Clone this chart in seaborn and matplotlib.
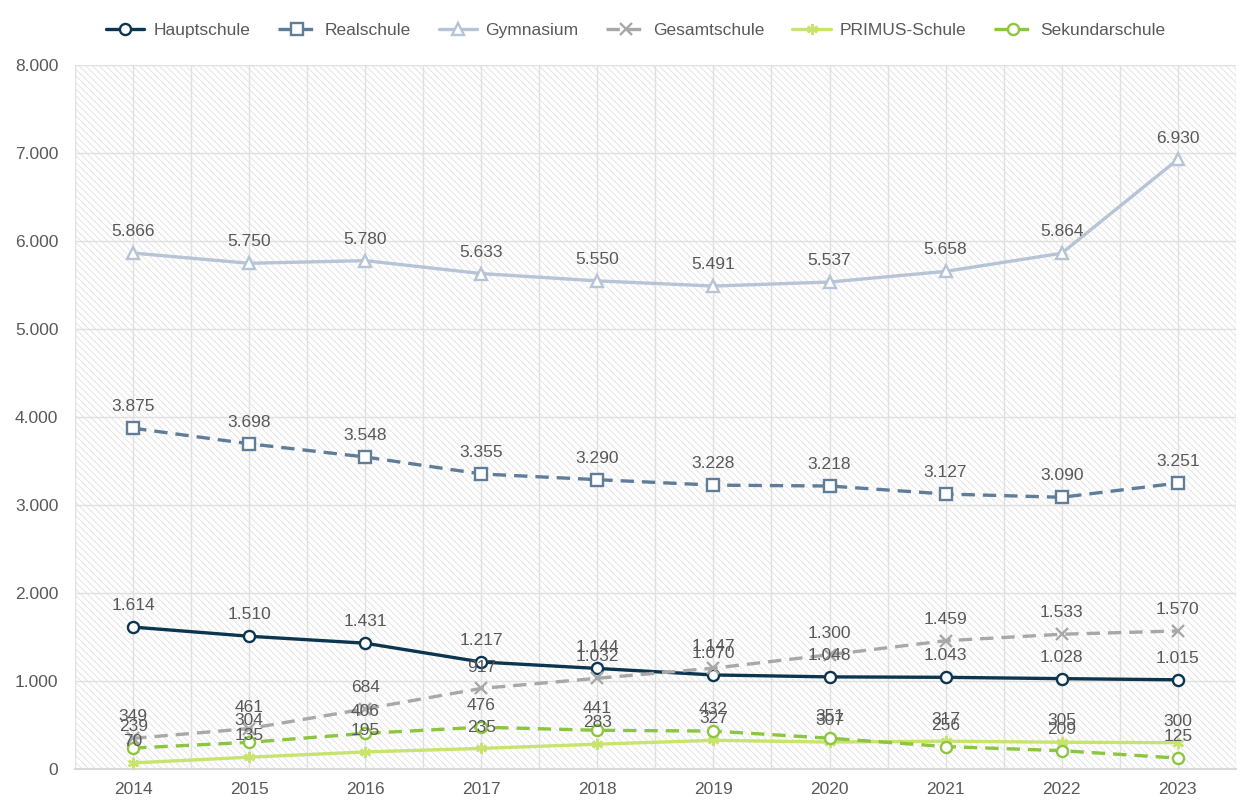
import pandas as pd
import matplotlib
matplotlib.use("Agg")
from matplotlib import pyplot as plt
import matplotlib.ticker as mtick
import seaborn as sns

# data
years = [2014, 2015, 2016, 2017, 2018, 2019, 2020, 2021, 2022, 2023]
hauptschule = [1614, 1510, 1431, 1217, 1144, 1070, 1048, 1043, 1028, 1015]
realschule = [3875, 3698, 3548, 3355, 3290, 3228, 3218, 3127, 3090, 3251]
gymnasium = [5866, 5750, 5780, 5633, 5550, 5491, 5537, 5658, 5864, 6930]
gesamtschule = [349, 461, 684, 917, 1032, 1147, 1300, 1459, 1533, 1570]
primus = [70, 135, 195, 235, 283, 327, 307, 317, 305, 300]
sekundarschule = [239, 304, 406, 476, 441, 432, 351, 256, 209, 125]

names = ["Hauptschule", "Realschule", "Gymnasium", "Gesamtschule", "PRIMUS-Schule", "Sekundarschule"]
values = [hauptschule, realschule, gymnasium, gesamtschule, primus, sekundarschule]
y_ticks = [0, 1000, 2000, 3000, 4000, 5000, 6000, 7000, 8000]

# styles per series
colors = ["#0c3550", "#5f7d98", "#b6c4d6", "#a8a8a8", "#c8e46e", "#8cc53f"]
markers = ["o", "s", "^", "x", (6, 2, 0), "o"]
dashed = [False, True, False, True, False, True]

rows = []
for name, vals in zip(names, values):
    for yr, v in zip(years, vals):
        rows.append({"Jahr": yr, "Anzahl": v, "Schulform": name})
df = pd.DataFrame(rows)

sns.set_style("white")
plt.rcParams["font.family"] = ["Liberation Sans", "DejaVu Sans"]
plt.rcParams["hatch.color"] = "#e0e0e0"
plt.rcParams["hatch.linewidth"] = 0.6

text_col = "#595959"

fig, ax = plt.subplots(figsize=(12.52, 8.07), dpi=100)
fig.subplots_adjust(left=0.060, right=0.987, top=0.919, bottom=0.047)

# hatched plot background
ax.set_facecolor("white")
ax.patch.set_hatch("\\\\\\\\\\")
ax.patch.set_edgecolor("#e0e0e0")
ax.patch.set_linewidth(0)

for name, col, mk, ds in zip(names, colors, markers, dashed):
    sub = df[df["Schulform"] == name]
    ls = (0, (4, 2.4)) if ds else "-"
    face = "white" if mk in ["o", "s", "^"] else col
    sns.lineplot(data=sub, x="Jahr", y="Anzahl", ax=ax, color=col, linewidth=2.4,
                 linestyle=ls, marker=mk, markersize=8, markerfacecolor=face,
                 markeredgecolor=col, markeredgewidth=1.7, label=name,
                 errorbar=None, clip_on=False, zorder=3)
    # value labels above each point
    for yr, v in zip(sub["Jahr"], sub["Anzahl"]):
        ax.annotate(f"{v:,}".replace(",", "."), (yr, v), xytext=(0, 10),
                    textcoords="offset points", ha="center", va="bottom",
                    fontsize=12.5, color=text_col, zorder=4)

ax.set_xlim(years[0] - 0.5, years[-1] + 0.5)
ax.set_ylim(0, 8000)
ax.set_xticks(years)
ax.set_yticks(y_ticks)
ax.xaxis.set_minor_locator(mtick.MultipleLocator(0.5))
ax.yaxis.set_major_formatter(mtick.FuncFormatter(lambda v, p: f"{int(v):,}".replace(",", ".")))
ax.grid(True, which="both", axis="x", color="#e0e0e0", linewidth=1)
ax.grid(True, which="major", axis="y", color="#e0e0e0", linewidth=1)
ax.set_axisbelow(True)
ax.tick_params(axis="both", which="both", length=0, labelsize=12.5, labelcolor=text_col)
ax.tick_params(axis="x", pad=9)
ax.tick_params(axis="y", pad=12)
ax.set_xlabel("")
ax.set_ylabel("")
sns.despine(ax=ax, left=True, bottom=False)
ax.spines["bottom"].set_color("#d9d9d9")
ax.spines["bottom"].set_linewidth(1.5)

handles, labels = ax.get_legend_handles_labels()
if ax.get_legend() is not None:
    ax.get_legend().remove()
fig.legend(handles, labels, loc="center", bbox_to_anchor=(0.508, 0.962), ncol=6,
           frameon=False, fontsize=12.5, labelcolor=text_col, handlelength=2.2,
           columnspacing=1.6, handletextpad=0.5)

fig.savefig("out.png", dpi=100)
